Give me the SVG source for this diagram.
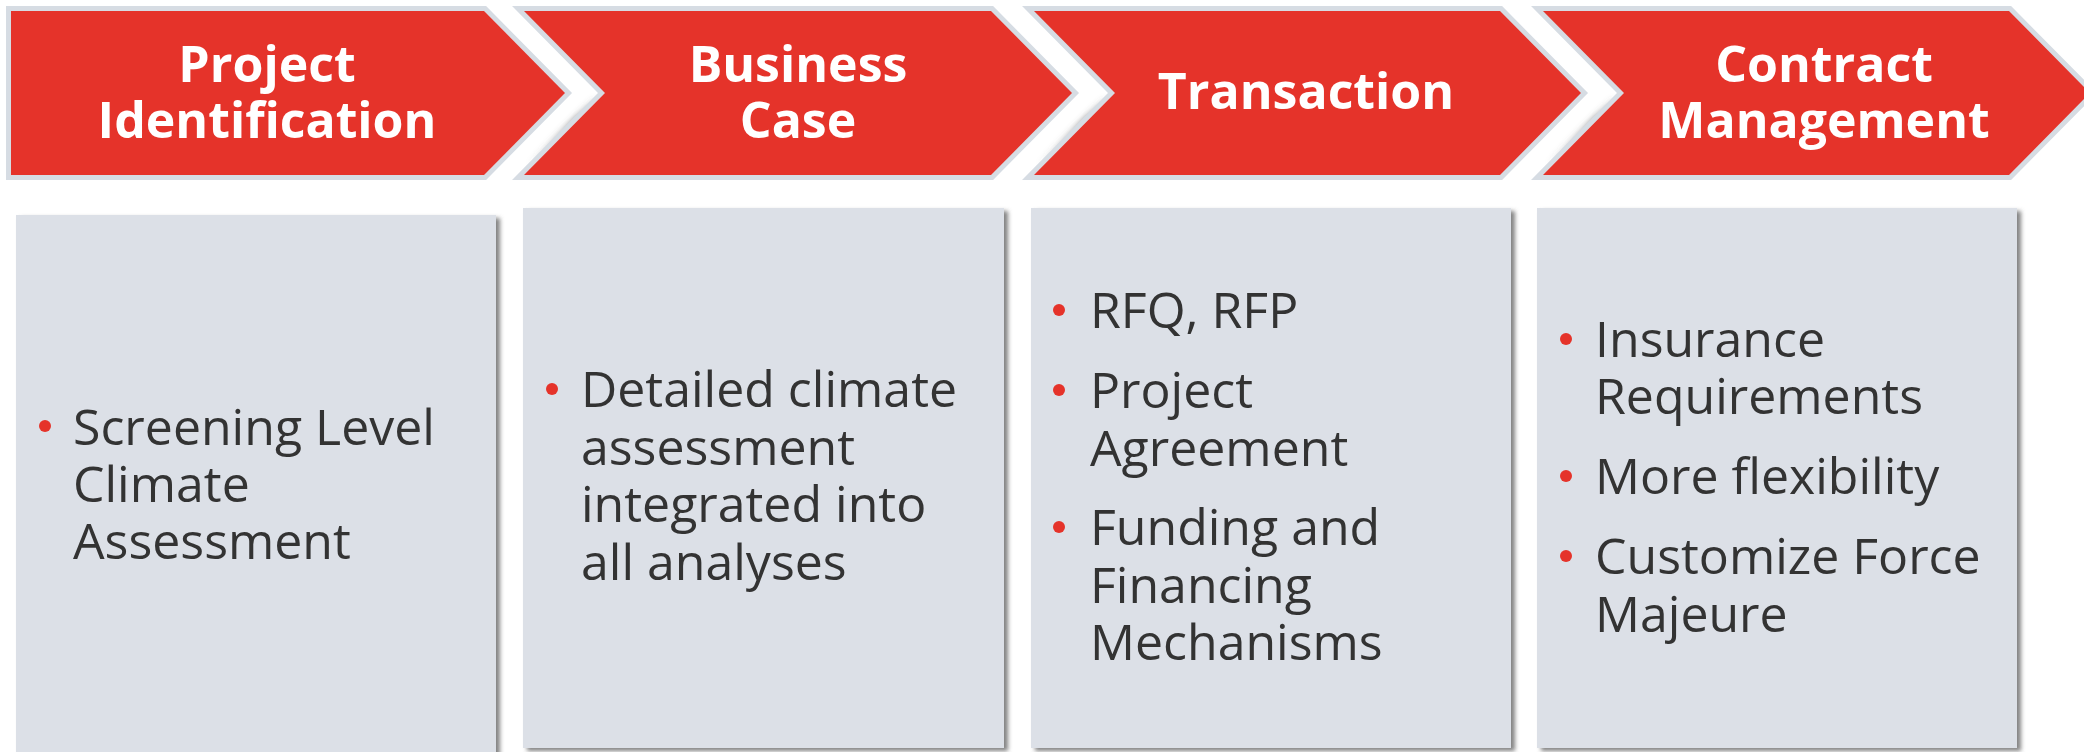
<svg xmlns="http://www.w3.org/2000/svg" width="2084" height="752" viewBox="0 0 2084 752">
<defs>
<filter id="boxShadow" x="-5%" y="-5%" width="115%" height="115%">
<feDropShadow dx="4" dy="3" stdDeviation="2" flood-color="#5a5a5a" flood-opacity="0.75"/>
</filter>
<filter id="blur" x="-50%" y="-50%" width="200%" height="200%">
<feGaussianBlur stdDeviation="3"/>
</filter>
<linearGradient id="shadeFade" x1="0" y1="0" x2="0" y2="1">
<stop offset="0" stop-color="#555" stop-opacity="0.2"/>
<stop offset="0.3" stop-color="#555" stop-opacity="0.8"/>
<stop offset="1" stop-color="#555" stop-opacity="0"/>
</linearGradient>
</defs>
<style>
.arrow{fill:#E5332A;stroke:#D6DCE3;stroke-width:10;stroke-linejoin:miter;paint-order:stroke}
.box{fill:#DCE0E7;filter:url(#boxShadow)}
.title{font-family:"Open Sans","Segoe UI","Liberation Sans",sans-serif;font-weight:700;font-size:50px;fill:#FFFFFF;text-anchor:middle}
.body{font-family:"Open Sans","Segoe UI","Liberation Sans",sans-serif;font-size:50px;fill:#333333}
.bullet{fill:#E5332A}
.notchShade{fill:none;stroke:url(#shadeFade);stroke-width:7;filter:url(#blur)}
</style>
<rect width="2084" height="752" fill="#FFFFFF"/>

<g id="notch-shadows">
<path class="notchShade" d="M597,101 L532,166"/>
<path class="notchShade" d="M1107,101 L1042,166"/>
<path class="notchShade" d="M1616,101 L1551,166"/>
</g>

<g id="stage-project-identification">
<path class="arrow" d="M11,11 H484 L565,93 L484,175 H11 Z"/>
<text class="title" x="267" y="82">Project</text>
<text class="title" x="267" y="138">Identification</text>
</g>
<g id="stage-business-case">
<path class="arrow" d="M524,11 H991 L1072,93 L991,175 H524 L605,93 Z"/>
<text class="title" x="798" y="82">Business</text>
<text class="title" x="798" y="138">Case</text>
</g>
<g id="stage-transaction">
<path class="arrow" d="M1034,11 H1500 L1581,93 L1500,175 H1034 L1115,93 Z"/>
<text class="title" x="1306" y="109">Transaction</text>
</g>
<g id="stage-contract-management">
<path class="arrow" d="M1543,11 H2009 L2090,93 L2009,175 H1543 L1624,93 Z"/>
<text class="title" x="1824" y="82">Contract</text>
<text class="title" x="1824" y="138">Management</text>
</g>

<g id="box-project-identification">
<rect class="box" x="16" y="215" width="480" height="560"/>
<circle class="bullet" cx="45" cy="426" r="6"/>
<text class="body" x="73" y="445">Screening Level</text>
<text class="body" x="73" y="502">Climate</text>
<text class="body" x="73" y="559">Assessment</text>
</g>
<g id="box-business-case">
<rect class="box" x="523" y="208" width="481" height="540"/>
<circle class="bullet" cx="552" cy="389" r="6"/>
<text class="body" x="581" y="407">Detailed climate</text>
<text class="body" x="581" y="465">assessment</text>
<text class="body" x="581" y="522">integrated into</text>
<text class="body" x="581" y="580">all analyses</text>
</g>
<g id="box-transaction">
<rect class="box" x="1031" y="208" width="480" height="540"/>
<circle class="bullet" cx="1059" cy="310" r="6"/>
<text class="body" x="1090" y="328">RFQ, RFP</text>
<circle class="bullet" cx="1059" cy="390" r="6"/>
<text class="body" x="1090" y="408">Project</text>
<text class="body" x="1090" y="466">Agreement</text>
<circle class="bullet" cx="1059" cy="527" r="6"/>
<text class="body" x="1090" y="545">Funding and</text>
<text class="body" x="1090" y="603">Financing</text>
<text class="body" x="1090" y="660">Mechanisms</text>
</g>
<g id="box-contract-management">
<rect class="box" x="1537" y="208" width="480" height="540"/>
<circle class="bullet" cx="1566" cy="339" r="6"/>
<text class="body" x="1595" y="357">Insurance</text>
<text class="body" x="1595" y="414">Requirements</text>
<circle class="bullet" cx="1566" cy="476" r="6"/>
<text class="body" x="1595" y="494">More flexibility</text>
<circle class="bullet" cx="1566" cy="556" r="6"/>
<text class="body" x="1595" y="574">Customize Force</text>
<text class="body" x="1595" y="632">Majeure</text>
</g>
<g id="connectors"/>
</svg>
